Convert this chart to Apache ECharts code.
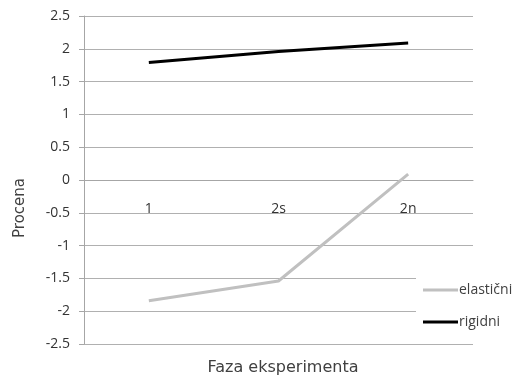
<!DOCTYPE html>
<html><head><meta charset="utf-8">
<script src="https://cdn.jsdelivr.net/npm/echarts@6/dist/echarts.min.js"></script>
<style>html,body{margin:0;padding:0;background:#fff}#c{width:527px;height:377px}</style>
</head><body><div id="c"></div>
<script>
const categories = ['1', '2s', '2n'];
const elasticni = [-1.84, -1.54, 0.09];
const rigidni = [1.79, 1.96, 2.09];
const seriesNames = ['elastični', 'rigidni'];
const yTicks = { min: -2.5, max: 2.5, interval: 0.5 };

const FONT = 'Open Sans';
const chart = echarts.init(document.getElementById('c'));
chart.setOption({
  animation: false,
  backgroundColor: '#fff',
  textStyle: { fontFamily: FONT },
  grid: { left: 84, right: 54, top: 16, bottom: 33, outerBoundsMode: 'none' },
  legend: {
    orient: 'vertical', left: 416, top: 270,
    padding: [13, 8, 10, 7],
    backgroundColor: '#fff',
    icon: 'rect',
    itemWidth: 35, itemHeight: 3, itemGap: 18,
    textStyle: { fontFamily: FONT, fontSize: 14, color: '#404040', padding: [0,0,0,-4] },
    data: seriesNames
  },
  xAxis: {
    type: 'category', data: categories,
    offset: -164,
    name: 'Faza eksperimenta', nameLocation: 'middle', nameGap: 180,
    nameTextStyle: { fontFamily: 'DejaVu Sans', fontSize: 16, color: '#404040', padding: [0,0,0,9] },
    axisLine: { onZero: false, lineStyle: { color: '#a6a6a6', width: 1 } },
    axisTick: { alignWithLabel: true, length: 6, lineStyle: { color: '#a6a6a6' } },
    axisLabel: { margin: 22, fontSize: 14, color: '#333', fontFamily: FONT }
  },
  yAxis: {
    type: 'value', min: yTicks.min, max: yTicks.max, interval: yTicks.interval,
    name: 'Procena', nameLocation: 'middle', nameGap: 56,
    nameTextStyle: { fontFamily: 'DejaVu Sans', fontSize: 15, color: '#404040', padding: [0,56,0,0] },
    axisLine: { show: true, lineStyle: { color: '#a6a6a6' } },
    axisTick: { show: true, length: 5, lineStyle: { color: '#a6a6a6' } },
    axisLabel: { margin: 14, fontSize: 14, color: '#333', fontFamily: FONT },
    splitLine: { lineStyle: { color: '#b0b0b0', width: 1 } }
  },
  series: [
    { name: seriesNames[0], type: 'line', data: elasticni, symbol: 'none',
      lineStyle: { color: '#c0c0c0', width: 3 }, itemStyle: { color: '#c0c0c0' } },
    { name: seriesNames[1], type: 'line', data: rigidni, symbol: 'none',
      lineStyle: { color: '#000', width: 3 }, itemStyle: { color: '#000' } }
  ]
});
</script></body></html>
